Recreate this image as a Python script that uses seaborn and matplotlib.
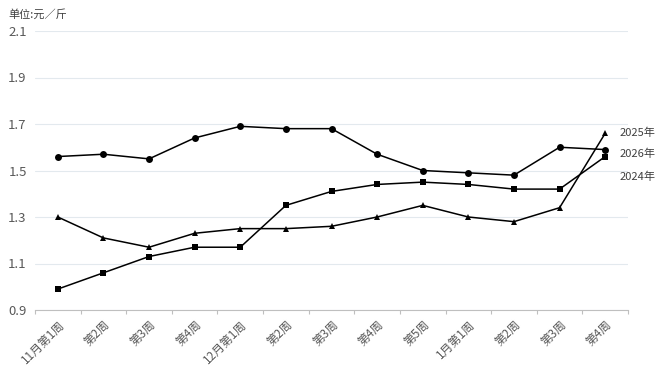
import matplotlib
matplotlib.use("Agg")
import matplotlib.pyplot as plt
import numpy as np
import pandas as pd
import seaborn as sns

weeks = ["11月第1周", "第2周", "第3周", "第4周", "12月第1周", "第2周", "第3周",
         "第4周", "第5周", "1月第1周", "第2周", "第3周", "第4周"]
y2025 = [1.30, 1.21, 1.17, 1.23, 1.25, 1.25, 1.26, 1.30, 1.35, 1.30, 1.28, 1.34, 1.66]
y2026 = [1.56, 1.57, 1.55, 1.64, 1.69, 1.68, 1.68, 1.57, 1.50, 1.49, 1.48, 1.60, 1.59]
y2024 = [0.99, 1.06, 1.13, 1.17, 1.17, 1.35, 1.41, 1.44, 1.45, 1.44, 1.42, 1.42, 1.56]
series = ["2025年", "2026年", "2024年"]
label_offsets = [0, -4, -20]  # pixels, to keep end labels apart

sns.set_theme(style="white")
plt.rcParams["font.family"] = ["Noto Sans CJK SC", "DejaVu Sans"]

idx = np.arange(len(weeks))
df = pd.concat([
    pd.DataFrame({"pos": idx, "price": vals, "year": name})
    for name, vals in zip(series, [y2025, y2026, y2024])
])

fig = plt.figure(figsize=(6.64, 3.73), dpi=100)
ax = fig.add_axes([35 / 664, 1 - 310 / 373, (628 - 35) / 664, (310 - 31) / 373])

sns.lineplot(data=df, x="pos", y="price", hue="year", style="year",
             palette={s: "black" for s in series},
             markers={"2025年": "^", "2026年": "o", "2024年": "s"},
             dashes=False, markersize=5, linewidth=1.1,
             markeredgewidth=0, legend=False, ax=ax)

ax.set_xlim(-0.5, len(weeks) - 0.5)
ax.set_ylim(0.9, 2.1)
ax.set_yticks(np.arange(0.9, 2.11, 0.2))
ax.set_yticklabels([f"{v:.1f}" for v in np.arange(0.9, 2.11, 0.2)], fontweight="medium")
ax.grid(axis="y", color="#e3e9ee", linewidth=0.8)
ax.set_axisbelow(True)

ax.set_xticks(idx)
ax.set_xticklabels(weeks, rotation=45, ha="right", rotation_mode="anchor",
                   fontweight="medium")
ax.set_xticks(np.arange(-0.5, len(weeks)), minor=True)
ax.tick_params(axis="x", which="major", length=0, pad=6, labelsize=8.5, labelcolor="#595959")
ax.tick_params(axis="x", which="minor", length=3, color="#bfbfbf", width=0.8, bottom=True)
ax.tick_params(axis="y", length=0, labelsize=9.5, labelcolor="#595959", pad=6)
ax.set_xlabel("")
ax.set_ylabel("")
for side in ["top", "right", "left"]:
    ax.spines[side].set_visible(False)
ax.spines["bottom"].set_color("#bfbfbf")
ax.spines["bottom"].set_linewidth(0.8)

for name, vals, off in zip(series, [y2025, y2026, y2024], label_offsets):
    ax.annotate(name, xy=(idx[-1], vals[-1]), xytext=(14, off),
                textcoords="offset pixels", fontsize=8, color="#404040",
                va="center", ha="left", annotation_clip=False)

fig.text(8 / 664, 1 - 14 / 373, "单位:元／斤", fontsize=8, color="#404040",
         ha="left", va="center")

fig.savefig("out.png", dpi=100, facecolor="white")
